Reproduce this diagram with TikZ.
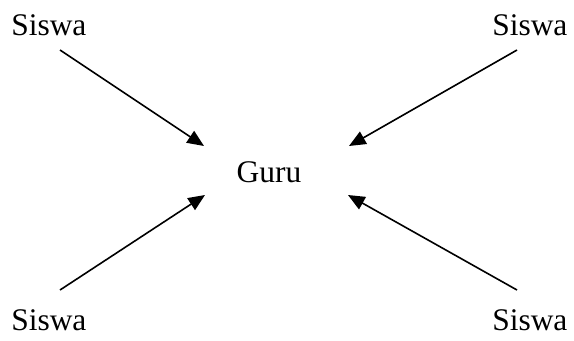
\documentclass[tikz,border=0pt]{standalone}
\usepackage{fontspec}
\setmainfont{Liberation Serif}
\usetikzlibrary{arrows.meta}
\begin{document}
\begin{tikzpicture}[x=0.75pt, y=-0.75pt,
  label/.style={inner sep=0pt, font=\fontsize{23.6pt}{28pt}\selectfont},
  link/.style={line width=1.2pt, -{Triangle[length=12.5pt, width=10.5pt]}}]
  \useasboundingbox (0,0) rectangle (574,340);
  % labels
  \node[label, anchor=base west] (s1) at (11,35) {Siswa};
  \node[label, anchor=base west] (s2) at (492,35) {Siswa};
  \node[label, anchor=base west] (s3) at (11,330) {Siswa};
  \node[label, anchor=base west] (s4) at (492,330) {Siswa};
  \node[label, anchor=base] (guru) at (269,182) {Guru};
  % arrow ends around the centre label
  \coordinate (t1) at (60,50);   \coordinate (h1) at (204,146);
  \coordinate (t2) at (517,50);  \coordinate (h2) at (349,146);
  \coordinate (t3) at (60,290);  \coordinate (h3) at (205,195);
  \coordinate (t4) at (517,290); \coordinate (h4) at (348,195);
  \draw[link] (t1) -- (h1);
  \draw[link] (t2) -- (h2);
  \draw[link] (t3) -- (h3);
  \draw[link] (t4) -- (h4);
\end{tikzpicture}
\end{document}
